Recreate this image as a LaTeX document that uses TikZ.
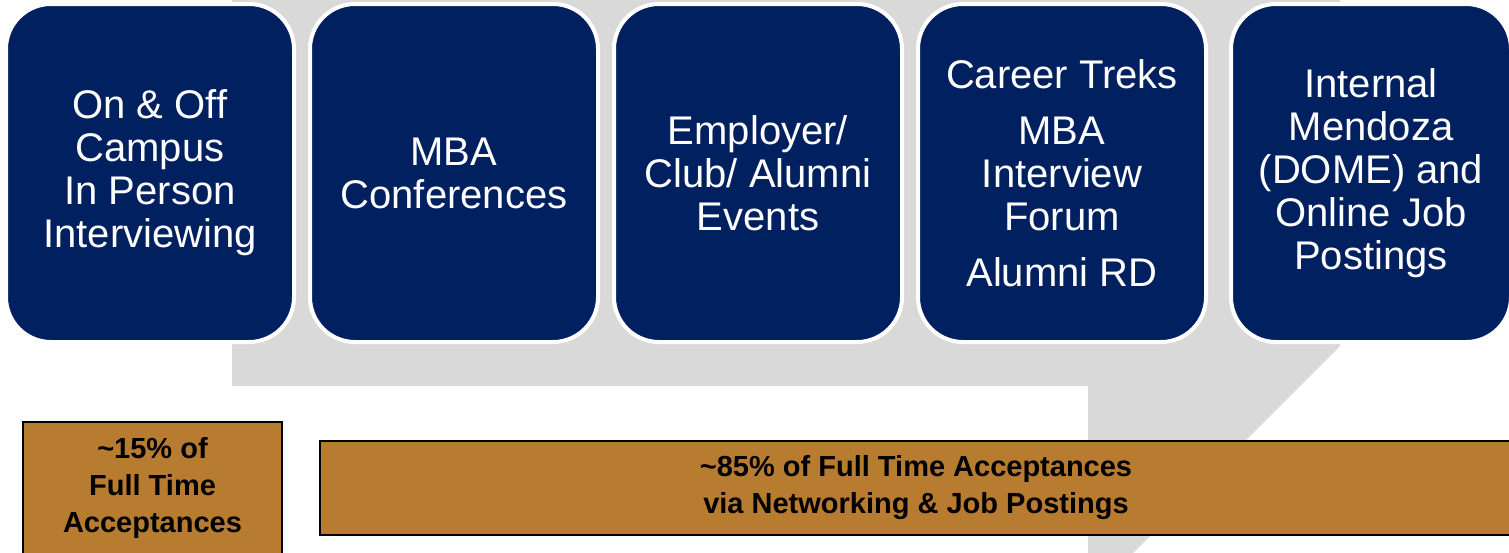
\documentclass[tikz,border=0pt]{standalone}
\usepackage{fontspec}
\setmainfont{Liberation Sans}
\usetikzlibrary{positioning}
\definecolor{navy}{HTML}{002060}
\definecolor{ochre}{HTML}{B87C30}
\definecolor{backgray}{HTML}{D9D9D9}
\begin{document}
\begin{tikzpicture}[x=1pt, y=-1pt, node distance={12pt},
	blk/.style = {draw=white, line width=4pt, fill=navy, text=white, rounded corners=45pt, minimum width=288pt, minimum height=338pt, inner sep=0pt, align=center, font=\fontsize{40}{43}\selectfont},
	bar/.style = {draw=black, line width=1.3pt, fill=ochre, inner sep=0pt, align=center, font=\fontsize{29}{37}\selectfont\bfseries}]
		\useasboundingbox (0,0) rectangle (1509,552);
		\fill[backgray] (232,-4) -- (1340,-4) -- (1340,346) -- (1088,598) -- (1088,386) -- (232,386) -- cycle;
		\node[blk] (b1) at (150,173) {On \& Off\\Campus\\In Person\\Interviewing};
		\node[blk] (b2) [right=of b1] {MBA\\Conferences};
		\node[blk] (b3) [right=of b2] {Employer/\\Club/ Alumni\\Events};
		\node[blk] (b4) [right=of b3] {Career Treks\\[13pt]MBA\\Interview\\Forum\\[13pt]Alumni RD};
		\node[blk, minimum width=280pt] (b5) [right=21pt of b4] {Internal\\Mendoza\\(DOME) and\\Online Job\\Postings};
		\node[bar, minimum width=259pt, minimum height=132pt] (p15) at (152.5,488) {\textasciitilde15\% of\\Full Time\\Acceptances};
		\node[bar, minimum width=1192pt, minimum height=94pt] (p85) at (916,488) {\textasciitilde85\% of Full Time Acceptances\\via Networking \& Job Postings};
	\end{tikzpicture}
\end{document}
